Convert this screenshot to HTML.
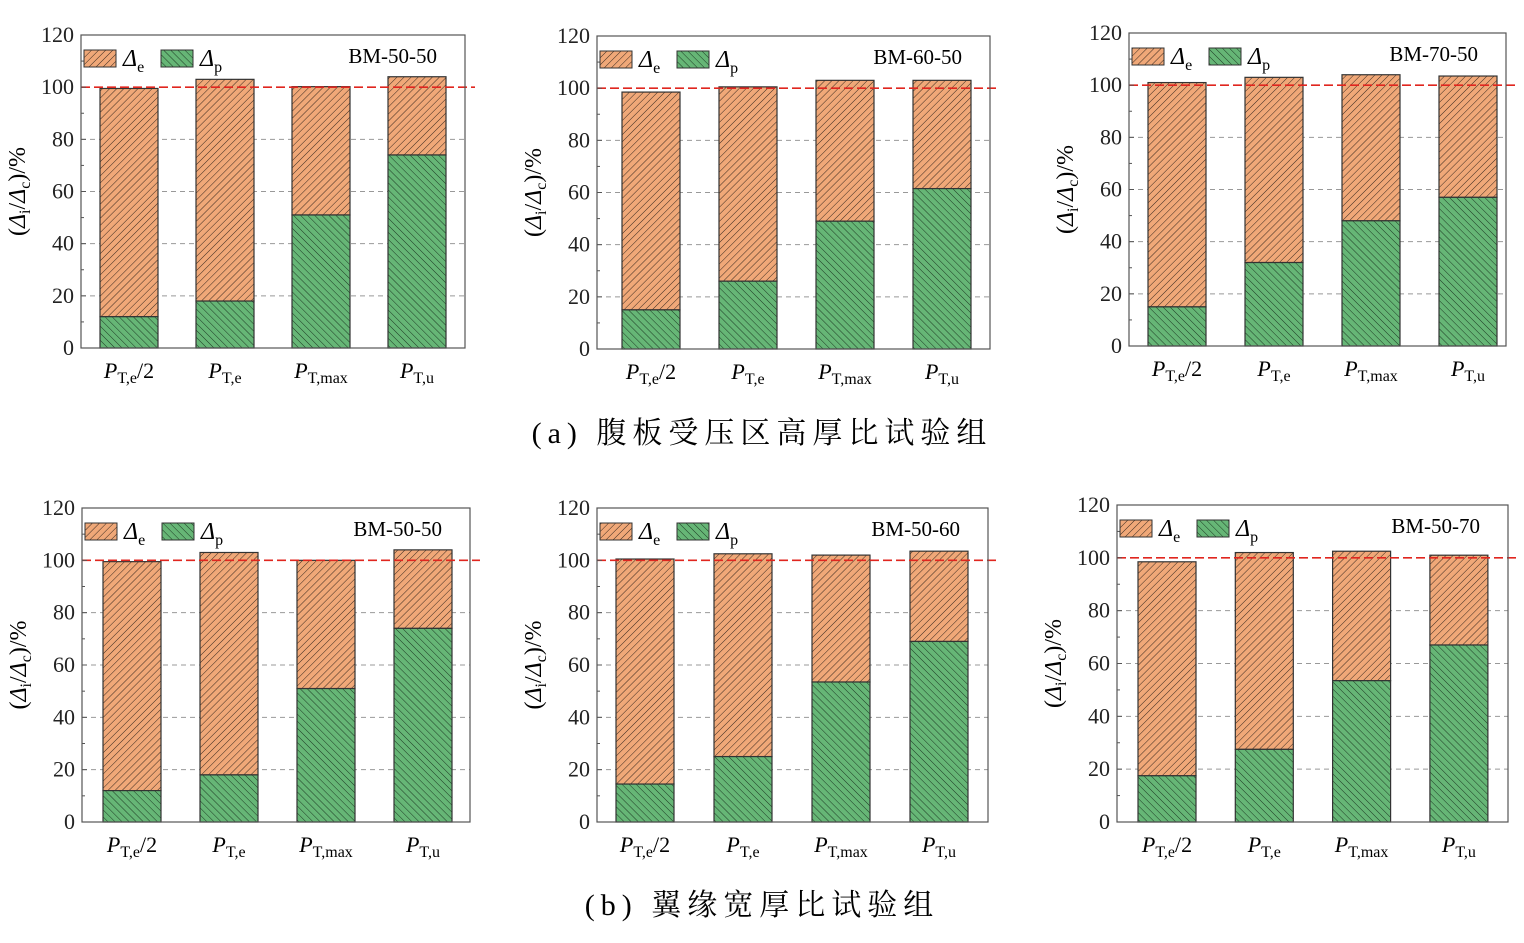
<!DOCTYPE html>
<html><head><meta charset="utf-8">
<style>
body{margin:0;background:#fff;}
svg{display:block;font-family:"Liberation Serif","Noto Serif CJK SC",serif;}
</style></head>
<body>
<svg id="fig" width="1524" height="943" viewBox="0 0 1524 943" xmlns="http://www.w3.org/2000/svg">
<defs>
<pattern id="hatchE" patternUnits="userSpaceOnUse" width="5" height="5" patternTransform="rotate(45)">
<rect width="5" height="5" fill="#f0a878"/><line x1="0" y1="0" x2="0" y2="5" stroke="#3a2a20" stroke-width="1"/></pattern>
<pattern id="hatchP" patternUnits="userSpaceOnUse" width="5" height="5" patternTransform="rotate(-45)">
<rect width="5" height="5" fill="#66b676"/><line x1="0" y1="0" x2="0" y2="5" stroke="#1e3a24" stroke-width="1"/></pattern>
</defs>
<g id="charts"></g>
<text x="762" y="443" text-anchor="middle" font-size="30" letter-spacing="6">(a) 腹板受压区高厚比试验组</text>
<text x="762" y="915" text-anchor="middle" font-size="30" letter-spacing="6">(b) 翼缘宽厚比试验组</text>
</svg>
<script>
const categories = ["PT,e/2","PT,e","PT,max","PT,u"];
const titles = ["BM-50-50","BM-60-50","BM-70-50","BM-50-50","BM-50-60","BM-50-70"];
const totals1 = [99.5,103,100.2,104];
const plastic1 = [12,18,51,74];
const totals2 = [98.5,100.5,103,103];
const plastic2 = [15,26,49,61.5];
const totals3 = [101,103,104,103.5];
const plastic3 = [15,32,48,57];
const totals4 = [99.5,103,100,104];
const plastic4 = [12,18,51,74];
const totals5 = [100.5,102.5,102,103.5];
const plastic5 = [14.5,25,53.5,69];
const totals6 = [98.5,102,102.5,101];
const plastic6 = [17.5,27.5,53.5,67];
const yTicks = [0,20,40,60,80,100,120];

const panels = [
 {l:81,r:465,t:35,b:348,b0:100,step:96,tot:totals1,pl:plastic1},
 {l:597,r:990,t:36,b:349,b0:622,step:97,tot:totals2,pl:plastic2},
 {l:1129,r:1506,t:33,b:346,b0:1148,step:97,tot:totals3,pl:plastic3},
 {l:82,r:470,t:508,b:822,b0:103,step:97,tot:totals4,pl:plastic4},
 {l:597,r:988,t:508,b:822,b0:616,step:98,tot:totals5,pl:plastic5},
 {l:1117,r:1508,t:505,b:822,b0:1138,step:97.3,tot:totals6,pl:plastic6}
];
const NS="http://www.w3.org/2000/svg";
const root=document.getElementById('charts');
function mk(tag,attrs,parent){const e=document.createElementNS(NS,tag);for(const k in attrs)e.setAttribute(k,attrs[k]);(parent||root).appendChild(e);return e;}

panels.forEach((p,pi)=>{
 const g=mk('g',{});
 
 
 const y=v=>p.b-(v/120)*(p.b-p.t);
 const bw=58;
 [20,40,60,80].forEach(v=>{
  const ln=mk('line',{x1:p.l,x2:p.r,y1:y(v),y2:y(v),stroke:'#999','stroke-dasharray':'5,4','stroke-width':1},g);
  
  
 });
 for(let i=0;i<categories.length;i++){
  const x=p.b0+i*p.step;
  const re=mk('rect',{x:x,y:y(p.tot[i]),width:bw,height:y(p.pl[i])-y(p.tot[i]),fill:'url(#hatchE)',stroke:'#333','stroke-width':1.2},g);
  
  
  const rp=mk('rect',{x:x,y:y(p.pl[i]),width:bw,height:p.b-y(p.pl[i]),fill:'url(#hatchP)',stroke:'#333','stroke-width':1.2},g);
  
  
  const c=categories[i];const sub=c.slice(1).replace('/2','');
  const tx=mk('text',{x:x+bw/2,y:p.b+30,'text-anchor':'middle','font-size':22},g);
  
  
  tx.innerHTML='<tspan font-style="italic">P</tspan><tspan font-size="16" dy="5">'+sub+'</tspan>'+(c.endsWith('/2')?'<tspan dy="-5">/2</tspan>':'');
 }
 const rl=mk('line',{x1:p.l,x2:p.r+10,y1:y(100),y2:y(100),stroke:'#e0261f','stroke-dasharray':'9,4','stroke-width':1.6},g);
 
 
 const fr=mk('rect',{x:p.l,y:p.t,width:p.r-p.l,height:p.b-p.t,fill:'none',stroke:'#555','stroke-width':1.2},g);
 
 
 yTicks.forEach(v=>{
  const t=mk('text',{x:p.l-7,y:y(v)+7,'text-anchor':'end','font-size':22,fill:'#222'},g);
  
  
  t.textContent=v;
  mk('line',{x1:p.l,x2:p.l+5,y1:y(v),y2:y(v),stroke:'#555'},g);
  if(v<120) mk('line',{x1:p.l,x2:p.l+3,y1:y(v+10),y2:y(v+10),stroke:'#555'},g);
 });
 const yt=mk('text',{transform:'translate('+(p.l-56)+','+((p.t+p.b)/2)+') rotate(-90)','text-anchor':'middle','font-size':24},g);
 
 
 yt.innerHTML='(<tspan font-style="italic">Δ</tspan><tspan font-size="16" dy="5">i</tspan><tspan dy="-5">/</tspan><tspan font-style="italic">Δ</tspan><tspan font-size="16" dy="5">c</tspan><tspan dy="-5">)/%</tspan>';
 const ly=p.t+15;
 const le=mk('rect',{x:p.l+3,y:ly,width:32,height:17,fill:'url(#hatchE)',stroke:'#333'},g);
 
 
 const lt1=mk('text',{x:p.l+42,y:ly+16,'font-size':24},g);
 
 
 lt1.innerHTML='<tspan font-style="italic">Δ</tspan><tspan font-size="16" dy="6">e</tspan>';
 const lp=mk('rect',{x:p.l+80,y:ly,width:32,height:17,fill:'url(#hatchP)',stroke:'#333'},g);
 
 
 const lt2=mk('text',{x:p.l+119,y:ly+16,'font-size':24},g);
 
 
 lt2.innerHTML='<tspan font-style="italic">Δ</tspan><tspan font-size="16" dy="6">p</tspan>';
 const tt=mk('text',{x:p.r-28,y:p.t+28,'text-anchor':'end','font-size':21},g);
 
 
 tt.textContent=titles[pi];
});
</script>
</body></html>
